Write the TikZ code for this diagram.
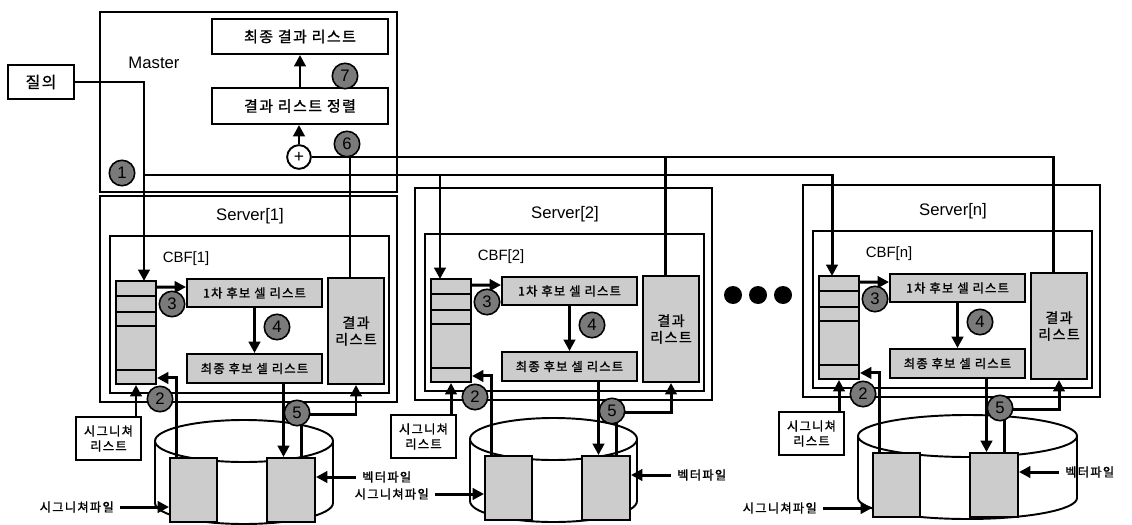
\documentclass[tikz,border=0pt]{standalone}
\usepackage{fontspec}
\setmainfont{Liberation Sans}
\newfontfamily\kr{Noto Sans CJK KR}[LetterSpace=10, FakeBold=1.2]
\usetikzlibrary{arrows.meta,fit,calc,positioning}

\definecolor{cellgray}{gray}{0.80}
\definecolor{numgray}{gray}{0.48}

\tikzset{
  wire/.style={line width=1.7pt},
  arr/.style={wire, -{Triangle[length=6.5pt,width=6.5pt]}},
  frame/.style={draw, line width=1.1pt, inner sep=0pt},
  cell/.style={frame, fill=cellgray},
  num/.style={circle, draw, line width=0.9pt, fill=numgray, inner sep=0pt,
    minimum size=14.5pt, font=\fontsize{9.5}{9.5}\selectfont},
  title/.style={font=\fontsize{9.5}{11}\selectfont},
  krbig/.style={font=\kr\fontsize{8.5}{10}\selectfont},
  krmid/.style={font=\kr\fontsize{8}{9.5}\selectfont, align=center},
  krsmall/.style={font=\kr\fontsize{7}{8.5}\selectfont, align=center},
}

\begin{document}
\begin{tikzpicture}[x=0.02cm, y=-0.02cm]
  \useasboundingbox (0,0) rectangle (1132,524);

  % master
  \node (master) [frame, fit={(100,12) (397,192)}] {};
  \node (mlabel) [title] at (154,63) {Master};
  \node (finalres) [frame, fit={(212,19) (388,54)}] {};
  \node (finalrest) [krbig] at (finalres) {최종 결과 리스트};
  \node (sort) [frame, fit={(212,88) (388,124)}] {};
  \node (sortt) [krbig] at (sort) {결과 리스트 정렬};
  \node (plus) [circle, draw, line width=1.1pt, inner sep=0pt, minimum size=13.5pt,
    font=\fontsize{10}{10}\selectfont] at (299,157) {+};
  \node (query) [frame, fit={(8,65) (74,99)}] {};
  \node (queryt) [krbig, font=\kr\fontsize{9}{10}\selectfont] at (query) {질의};
  \draw [arr] (sort.north) -- (finalres.south);
  \draw [arr] (plus.north) -- (plus.north |- sort.south);

  % servers
  \foreach \i/\sxo/\syo/\stp/\cyr/\sfy/\qxo/\sname in
      {1/100/0/196/233/507/44/1, 2/415/-2/190/222/496/25/2, 3/803/-5/190/274/513/29/n} {
    \begin{scope}[shift={(\sxo,\syo)}]
      \node (server\i) [frame, fit={(0,\stp) (297,402)}] {};
      \node (slabel\i) [title] at (150,216) {Server[\sname]};
      \node (cbf\i) [frame, fit={(10,236) (289,393)}] {};
      \node (clabel\i) [font=\fontsize{8.5}{10}\selectfont] at (86,259) {CBF[\sname]};
      % signature table
      \node (col\i) [cell, fit={(16,281) (56,384)}] {};
      \foreach \r in {296,312,326,370}
        \draw [line width=1.1pt] (16,\r) -- (56,\r);
      \node (first\i) [cell, fit={(87,279) (222,307)}] {};
      \node (firstt\i) [krsmall] at (first\i) {1차 후보 셀 리스트};
      \node (final\i) [cell, fit={(87,354) (222,383)}] {};
      \node (finalt\i) [krsmall] at (final\i) {최종 후보 셀 리스트};
      \node (res\i) [cell, fit={(228,278) (284,384)}] {};
      \node (rest\i) [krmid] at (res\i) {결과\\리스트};
      \coordinate (qin\i) at (\qxo,281);
      \coordinate (rin\i) at (250,278);

      % disk
      \draw [line width=1.1pt] (55,441) -- (55,503)
        arc [start angle=180, end angle=0, x radius={(\cyr-55)/2}, y radius=21] -- (\cyr,441);
      \draw [line width=1.1pt] ({(55+\cyr)/2},441) ellipse [x radius={(\cyr-55)/2}, y radius=21];
      \node (sigf\i) [cell, fit={(70,458) (117,522)}] {};
      \node (vecf\i) [cell, fit={(167,458) (215,522)}] {};
      \node (sigl\i) [frame, fill=white, fit={(-24,417) (41,460)}] {};
      \node (siglt\i) [krsmall] at (sigl\i) {시그니쳐\\리스트};
      \node (sigfl\i) [krsmall, anchor=east] at (20,\sfy) {시그니쳐파일};
      \node (vecfl\i) [krsmall, anchor=west] at (256,477) {벡터파일};

      % flows
      \draw [arr] ($(col\i.north east)+(0,7)$) -- ($(first\i.north west)+(0,9)$);
      \draw [arr] (first\i.south) -- (first\i.south |- final\i.north);
      \draw [arr] (sigl\i.north -| col\i.south) -- (col\i.south);
      \draw [arr] ($(sigf\i.north west)+(7,0)$) |- ($(col\i.south east)+(0,-7)$);
      \coordinate (dn\i) at ($(final\i.south)+(29,0)$);
      \draw [arr] (dn\i) -- (dn\i |- vecf\i.north);
      \coordinate (up\i) at ($(vecf\i.north west)+(35,0)$);
      \draw [arr] (up\i) -- ++(0,-43) -| (res\i.south);
      \draw [arr] (sigfl\i.east) -- (sigf\i.west |- sigfl\i.east);
      \draw [arr] (vecfl\i.west) -- (vecf\i.east |- vecfl\i.west);

      \node (ntwo\i) [num] at (60,399) {2};
      \node (nthree\i) [num] at (72,304) {3};
      \node (nfour\i) [num] at (177,327) {4};
      \node (nfive\i) [num] at (197,413) {5};
    \end{scope}
  }

  % query bus
  \coordinate (qbus) at (0,175);
  \draw [arr] (query.east) -| (qin1);
  \draw [arr] (qin1 |- qbus) -| (qin3);
  \draw [arr] (qin2 |- qbus) -- (qin2);

  % result bus
  \draw [wire] (plus.east) -| (rin3);
  \draw [wire] (rin1 |- plus.east) -- (rin1);
  \draw [wire] (rin2 |- plus.east) -- (rin2);

  \node (none) [num] at (122,173) {1};
  \node (nsix) [num] at (347,144) {6};
  \node (nseven) [num] at (345,76) {7};

  % more servers
  \foreach \d in {733,758,783}
    \fill (\d,295) circle (9);
\end{tikzpicture}
\end{document}
